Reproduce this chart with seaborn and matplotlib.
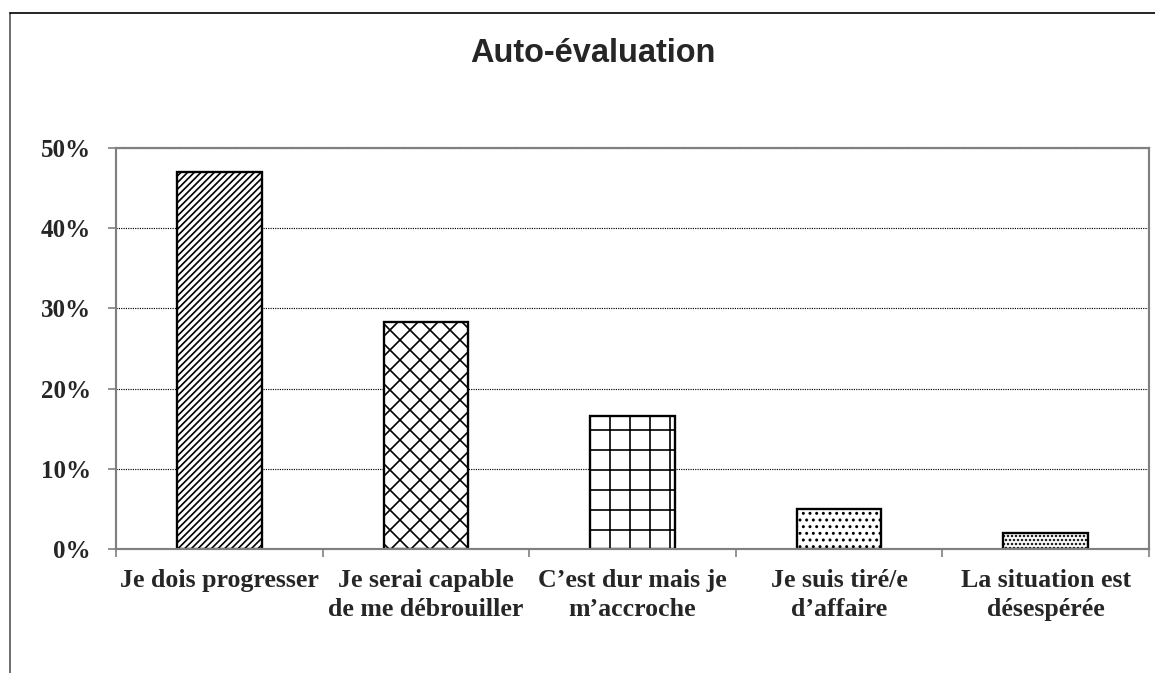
import matplotlib
matplotlib.use('Agg')
import matplotlib.pyplot as plt
from matplotlib.lines import Line2D
from matplotlib.ticker import PercentFormatter, FixedLocator
import seaborn as sns
import pandas as pd

categories = ['Je dois progresser', 'Je serai capable\nde me débrouiller',
              'C\u2019est dur mais je\nm\u2019accroche', 'Je suis tiré/e\nd\u2019affaire',
              'La situation est\ndésespérée']
values = [47.0, 28.3, 16.6, 5.0, 2.0]
hatches = ['//////', 'xx', '+', '...', '.....']

data = pd.DataFrame({'Reponse': categories, 'Pourcentage': values})

sns.set_style('white')
plt.rcParams['hatch.linewidth'] = 1.0
plt.rcParams['font.family'] = ['Liberation Serif', 'DejaVu Serif']

fig = plt.figure(figsize=(1155 / 120, 673 / 120), dpi=120)
ax = fig.add_axes([116 / 1155, 124 / 673, (1149 - 116) / 1155, (549 - 148) / 673])

sns.barplot(data=data, x='Reponse', y='Pourcentage', color='white', width=0.41,
            edgecolor='black', linewidth=1.4, ax=ax)
for bar, h in zip(ax.patches, hatches):
    bar.set_hatch(h)
    bar.set_facecolor('white')

ax.set_ylim(0, 50)
ax.set_xlim(-0.5, 4.5)
ax.set_yticks([0, 10, 20, 30, 40, 50])
ax.yaxis.set_major_formatter(PercentFormatter(decimals=0))
ax.yaxis.grid(True, color='black', linestyle=(0, (1, 1)), linewidth=0.7)
ax.set_axisbelow(True)
ax.set_xlabel('')
ax.set_ylabel('')

for s in ax.spines.values():
    s.set_color('#808080')
    s.set_linewidth(1.3)

ax.tick_params(axis='y', which='major', length=5, width=1, color='#808080',
               direction='out', left=True, pad=10, labelsize=15)
ax.tick_params(axis='x', which='major', length=0, pad=12, labelsize=15.5)
ax.xaxis.set_minor_locator(FixedLocator([-0.5, 0.5, 1.5, 2.5, 3.5, 4.5]))
ax.tick_params(axis='x', which='minor', length=5, width=1, color='#808080',
               direction='out', bottom=True)
for lbl in ax.get_yticklabels() + ax.get_xticklabels():
    lbl.set_fontweight('bold')
for lbl in ax.get_xticklabels():
    lbl.set_linespacing(1.35)

fig.text(593 / 1155, 1 - 53 / 673, 'Auto-évaluation', ha='center', va='center',
         fontsize=19.5, fontweight='bold', family=['Liberation Sans', 'DejaVu Sans'])

# cadre du graphique
fig.add_artist(Line2D([10 / 1155, 10 / 1155], [0, 1 - 13 / 673],
                      transform=fig.transFigure, color='#555555', linewidth=1))
fig.add_artist(Line2D([10 / 1155, 1], [1 - 13 / 673, 1 - 13 / 673],
                      transform=fig.transFigure, color='black', linewidth=1))

fig.savefig('out.png', dpi=120)
